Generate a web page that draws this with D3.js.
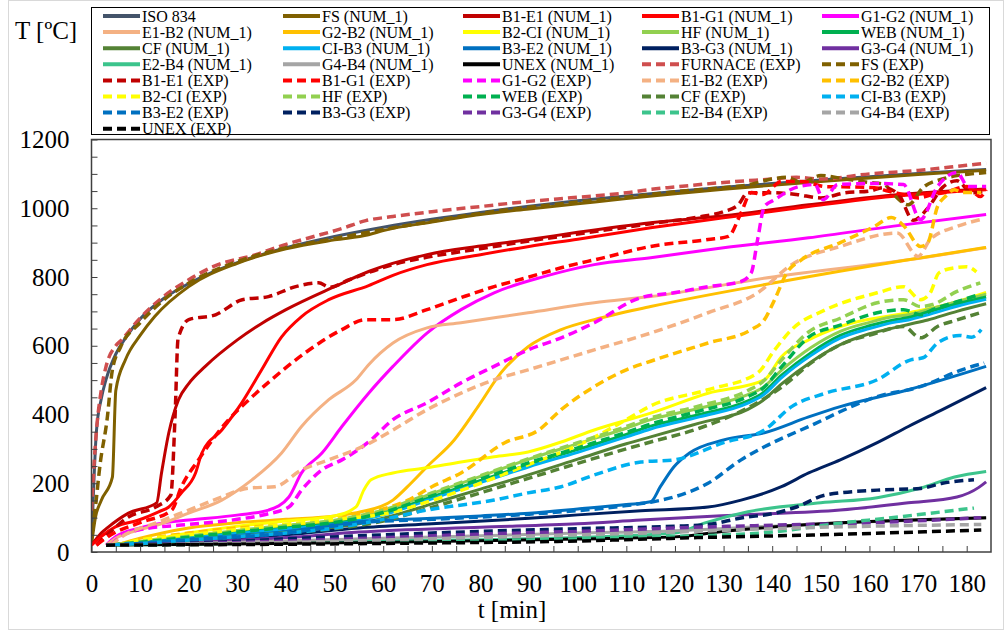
<!DOCTYPE html>
<html>
<head>
<meta charset="utf-8">
<script src="https://cdn.jsdelivr.net/npm/d3@7"></script>
<style>
  body { margin: 0; background: #fff; }
  text { font-family: "Liberation Serif", "Times New Roman", serif; }
</style>
</head>
<body>
<script>
// ---- data: [t (min), T (degC)] ----
var iso834 = [[0,20],[1,349],[2,445],[3,502],[5,576],[7,623],[10,678],[15,739],[20,781],[25,815],[30,842],[40,885],[50,918],[60,945],[70,968],[80,988],[90,1006],[100,1022],[110,1036],[120,1049],[130,1061],[140,1072],[150,1082],[160,1092],[170,1101],[180,1110],[184,1113]];
var fsNum = [[0,20],[0.8,100],[2,150],[4.3,218],[5,470],[7,560],[10,630],[13,685],[20,772],[30,840],[40,882],[50,908],[57,923],[60,935],[70,960],[80,982],[90,998],[100,1013],[110,1028],[120,1042],[130,1055],[140,1067],[150,1078],[160,1088],[170,1098],[180,1107],[184,1111]];
var b1e1Num = [[0,20],[2,55],[3.5,73],[7.6,113],[13.4,143],[14.4,230],[15.9,347],[17.9,443],[20,490],[23.4,540],[30,617],[35,665],[40,705],[50,772],[57,816],[69,865],[80,890],[90,909],[100,930],[115,958],[130,978],[147.5,1010],[164.5,1038],[184,1056]];
var b1g1Num = [[0,20],[2,45],[4.9,73],[9.7,93],[13.8,117],[15.9,131],[18.5,172],[21.4,230],[22.7,288],[26.8,355],[30.9,434],[35,530],[39.1,626],[43.2,685],[48.8,734],[57,775],[62,805],[69,836],[80,865],[90,889],[100,910],[115,943],[130,972],[147.5,1005],[164.5,1034],[184,1054]];
var g1g2Num = [[3,20],[5,45],[10,70],[15,85],[20,93],[30.3,108],[36.4,122],[40.6,160],[43.2,230],[47.4,288],[51.5,365],[57,462],[62,540],[69,637],[76,705],[82.8,754],[93,801],[103.4,836],[115,856],[130,885],[147.5,914],[165,948],[184,982]];
var e1b2Num = [[3,20],[5,40],[10,65],[15,85],[20,113],[26.8,151],[33,210],[39.1,288],[43.2,365],[48.8,443],[54.4,501],[57,545],[62,608],[69,652],[76,667],[89.8,696],[103.4,725],[115,743],[140.5,801],[168,850],[184,885]];
var g2b2Num = [[5,20],[10,40],[20,70],[30,85],[40,95],[50,105],[55.4,117],[62,151],[65.7,200],[69,248],[74.6,326],[79.5,423],[84.2,521],[89.8,597],[96.6,647],[103.4,676],[115,714],[140.5,783],[168,850],[184,886]];
var b2ciNum = [[4,20],[10,30],[20,55],[30,75],[40,90],[50,105],[54.4,131],[56,180],[57.5,210],[62,230],[69,245],[76,262],[82.8,277],[89.8,291],[96.6,320],[103.4,355],[115,404],[126.8,462],[138.4,501],[141.9,568],[147.5,617],[154,656],[168,696],[176,720],[184,755]];
var hfNum = [[4,20],[10,30],[20,45],[30,60],[40,75],[50,90],[55,100],[60,120],[70,170],[80,220],[90,270],[100,315],[110,360],[115,385],[125,418],[135,458],[138,478],[142,530],[148,595],[154,642],[160,668],[165,685],[168,690],[172,705],[178,728],[184,750]];
var webNum = [[4,20],[10,28],[20,42],[30,56],[40,70],[50,84],[55,95],[60,112],[70,160],[80,208],[90,255],[100,298],[110,342],[115,366],[125,400],[135,440],[138,462],[142,515],[148,580],[154,630],[160,658],[165,675],[168,682],[172,698],[178,722],[184,742]];
var cfNum = [[4,20],[10,25],[20,36],[30,48],[40,60],[50,72],[55,82],[60,98],[70,140],[80,183],[90,225],[100,270],[110,315],[115,335],[125,375],[135,415],[138,440],[142,490],[148,553],[154,603],[160,635],[165,652],[168,662],[172,675],[178,700],[184,722]];
var ciB3Num = [[4,20],[10,27],[20,40],[30,54],[40,67],[50,80],[55,92],[60,108],[70,155],[80,202],[90,248],[100,290],[110,335],[115,358],[125,393],[135,433],[138,455],[142,508],[148,572],[154,622],[160,650],[165,668],[168,675],[172,690],[178,715],[184,735]];
var b3e2Num = [[3,20],[10,27],[20,38],[40,60],[55,88],[70,98],[80,105],[90,113],[100,125],[110,138],[115,146],[117,190],[119.8,248],[123,288],[130,326],[138.4,347],[147.5,393],[154,423],[168,472],[184,540]];
var b3g3Num = [[3,20],[20,30],[40,50],[55,70],[70,82],[90,98],[100,108],[113,120],[126.8,131],[133.6,151],[141.9,190],[147.5,230],[154,268],[161.6,318],[168,365],[175,414],[184,478]];
var g3g4Num = [[3,20],[20,28],[40,42],[55,58],[80,72],[100,82],[113,93],[133.6,108],[154,122],[168,143],[178,160],[182.5,188],[184,204]];
var e2b4Num = [[3,20],[20,22],[60,32],[100,42],[120,55],[126,84],[135,117],[150,143],[161.6,158],[170.6,186],[177.5,218],[184,234]];
var g4b4Num = [[3,20],[20,25],[60,40],[100,55],[120,62],[140,75],[160,88],[184,99]];
var unexNum = [[3,20],[20,22],[60,28],[100,38],[120,44],[130,60],[150,82],[184,100]];

var furnaceExp = [[0,120],[0.5,250],[1,350],[2,470],[3,540],[5,600],[6.2,617],[9.7,676],[15,745],[20,792],[25,830],[33.8,865],[40,895],[45,915],[51.5,941],[56.4,964],[62,976],[70,990],[80,1005],[90,1020],[100,1032],[110,1045],[114.5,1054],[120,1062],[130,1075],[140,1085],[145,1090],[150,1085],[160,1100],[170,1110],[180,1125],[184,1131]];
var fsExp = [[0,60],[0.7,120],[1.8,259],[3.2,385],[4.3,530],[6,597],[10,667],[15,735],[20,782],[30,845],[40,885],[50,912],[60,938],[70,962],[80,985],[90,1003],[100,1018],[110,1032],[120,1048],[130,1060],[135,1068],[140,1085],[143,1090],[146,1075],[150,1095],[155,1085],[160,1075],[163,1070],[165,1040],[168,1010],[171,1060],[175,1085],[178,1095],[181,1100],[184,1104]];
var b1e1Exp = [[1,20],[4,60],[7.6,102],[13.2,131],[16.3,165],[17.2,400],[17.8,620],[20,676],[25.5,690],[31,734],[36.4,743],[42,772],[46.7,783],[49,770],[53,792],[62,836],[70,860],[80,882],[90,905],[100,925],[115,955],[125,975],[130,990],[133,1010],[135,1045],[140,1045],[145,1040],[150,1030],[155,1045],[160,1050],[163,1060],[166,1040],[169,965],[172,1000],[175,1060],[178,1080],[181,1045],[184,1050]];
var b1g1Exp = [[1,20],[4,50],[9.7,84],[16.5,122],[18.5,190],[22,268],[28.2,385],[31.7,434],[37,501],[44,580],[51.5,647],[56.4,676],[62,676],[69,705],[76,740],[82.8,772],[90,800],[96.6,827],[105,855],[115,889],[126.8,909],[131,918],[133.6,987],[135.7,1046],[138,1040],[142,1078],[146,1078],[151,1063],[156,1062],[161,1060],[164,1049],[167,1040],[170,1030],[173,1040],[175.6,1046],[180,1063],[182.8,1034],[184,1054]];
var g1g2Exp = [[4,20],[6,45],[10,65],[20,80],[30,95],[36,110],[40.6,131],[43.2,180],[47.4,239],[51.5,268],[57,320],[62,385],[69,434],[76,492],[82.8,540],[89.8,588],[96.6,623],[103.4,667],[113,740],[119.8,754],[126.8,772],[133.6,787],[135.7,813],[137,909],[138.4,1005],[140.5,1025],[145.4,1063],[148.8,1069],[150.5,1025],[153.5,1069],[161.6,1072],[167,1069],[170.5,967],[174,1063],[178,1104],[180.3,1063],[184,1063]];
var e1b2Exp = [[4,20],[6.2,44],[13.2,84],[20,122],[26.8,160],[32.3,186],[37.7,190],[43.2,239],[48.8,268],[57,315],[62,355],[69,414],[76,462],[82.8,501],[89.8,530],[103.4,588],[115,637],[126.8,696],[137,754],[144,836],[154,889],[165.7,928],[170,860],[172.5,909],[178,947],[182.8,967]];
var g2b2Exp = [[5,20],[10,35],[20,55],[30,70],[40,80],[50,95],[55,110],[60,125],[65,150],[70,190],[76,230],[85,318],[92,355],[96.6,414],[103.4,481],[110,530],[115,555],[126.8,608],[135.7,647],[138.4,676],[140.5,734],[143,812],[146,850],[154,900],[161,947],[164.5,973],[167,950],[170.5,889],[172,900],[174,1005],[175.6,1034],[177.5,1054],[179,1046],[183,1046]];
var b2ciExp = [[5,20],[10,35],[20,50],[30,65],[40,80],[50,95],[60,110],[70,150],[80,200],[90,255],[100,310],[110,385],[115,425],[126.8,472],[137,521],[140.5,588],[144,647],[151,705],[161.6,754],[167,772],[170.5,734],[172.5,754],[174.3,812],[177.5,827],[180,830],[182,815]];
var hfExp = [[4,20],[10,30],[20,46],[30,62],[40,77],[50,92],[60,122],[70,172],[80,222],[90,272],[100,318],[110,365],[115,390],[125,425],[135,470],[138,495],[142,560],[147.5,640],[154,680],[161.6,725],[167,734],[170.5,714],[173,720],[178,758],[182.8,783]];
var webExp = [[4,20],[10,28],[20,43],[30,58],[40,72],[50,86],[60,115],[70,163],[80,212],[90,260],[100,303],[110,348],[115,372],[125,410],[135,452],[138,475],[142,540],[147.5,625],[154,660],[161.6,696],[167,705],[170.5,690],[173,705],[178,728],[182.8,750]];
var cfExp = [[4,20],[10,24],[20,34],[30,45],[40,56],[50,68],[60,90],[70,130],[80,172],[90,215],[100,258],[110,300],[115,320],[125,360],[138,443],[142,480],[148,550],[154,603],[161,635],[167,656],[170.5,623],[174,656],[178,675],[182.8,696]];
var ciB3Exp = [[4,20],[10,25],[20,35],[30,45],[40,55],[50,70],[60,95],[69,122],[82.8,151],[89.8,172],[96.6,190],[103.4,224],[113,262],[119.8,268],[130,318],[138.4,355],[144,423],[151,462],[161.6,501],[168.5,559],[171,565],[174,608],[178.5,630],[181,625],[183,647]];
var b3e2Exp = [[3,20],[10,25],[20,35],[40,55],[55,85],[70,95],[90,110],[110,135],[115,145],[119.8,160],[126.8,200],[133.6,268],[138.4,306],[147.5,365],[161.6,452],[170.5,481],[179,530],[183.6,550]];
var b3g3Exp = [[3,20],[20,25],[40,38],[60,50],[80,60],[100,68],[120,75],[126.8,80],[133.6,99],[140.5,113],[145,131],[151,166],[161.6,180],[170.5,185],[175,200],[181.5,210]];
var g3g4Exp = [[3,20],[20,24],[40,32],[60,42],[80,52],[100,60],[120,70],[140,78],[160,85],[183,100]];
var e2b4Exp = [[3,20],[20,22],[60,28],[100,38],[120,45],[140,58],[154,84],[164,99],[181.5,128]];
var g4b4Exp = [[3,20],[20,22],[60,35],[100,50],[120,58],[140,68],[160,75],[183,80]];
var unexExp = [[3,20],[20,21],[60,25],[100,32],[125,42],[150,50],[183,64]];

var seriesNames = ["ISO 834","FS (NUM_1)","B1-E1 (NUM_1)","B1-G1 (NUM_1)","G1-G2 (NUM_1)",
  "E1-B2 (NUM_1)","G2-B2 (NUM_1)","B2-CI (NUM_1)","HF (NUM_1)","WEB (NUM_1)",
  "CF (NUM_1)","CI-B3 (NUM_1)","B3-E2 (NUM_1)","B3-G3 (NUM_1)","G3-G4 (NUM_1)",
  "E2-B4 (NUM_1)","G4-B4 (NUM_1)","UNEX (NUM_1)","FURNACE (EXP)","FS (EXP)",
  "B1-E1 (EXP)","B1-G1 (EXP)","G1-G2 (EXP)","E1-B2 (EXP)","G2-B2 (EXP)",
  "B2-CI (EXP)","HF (EXP)","WEB (EXP)","CF (EXP)","CI-B3 (EXP)",
  "B3-E2 (EXP)","B3-G3 (EXP)","G3-G4 (EXP)","E2-B4 (EXP)","G4-B4 (EXP)",
  "UNEX (EXP)"];
var seriesData = [iso834, fsNum, b1e1Num, b1g1Num, g1g2Num,
  e1b2Num, g2b2Num, b2ciNum, hfNum, webNum,
  cfNum, ciB3Num, b3e2Num, b3g3Num, g3g4Num,
  e2b4Num, g4b4Num, unexNum, furnaceExp, fsExp,
  b1e1Exp, b1g1Exp, g1g2Exp, e1b2Exp, g2b2Exp,
  b2ciExp, hfExp, webExp, cfExp, ciB3Exp,
  b3e2Exp, b3g3Exp, g3g4Exp, e2b4Exp, g4b4Exp,
  unexExp];

var seriesColors = ["#44546A","#7F6000","#C00000","#FF0000","#FF00FF",
  "#F4B183","#FFC000","#FFFF00","#92D050","#00B050",
  "#548235","#00B0F0","#0070C0","#002060","#7030A0",
  "#3CC48C","#A5A5A5","#000000","#CF4E4E","#7F6000",
  "#C00000","#FF0000","#FF00FF","#F4B183","#FFC000",
  "#FFFF00","#92D050","#00B050","#548235","#00B0F0",
  "#0070C0","#002060","#7030A0","#3CC48C","#A5A5A5",
  "#000000"];

var width = 1005, height = 631;
var plot = {left: 91.5, right: 991, top: 139.5, bottom: 552};

var svg = d3.select("body").append("svg")
    .attr("width", width)
    .attr("height", height);

// outer chart border
svg.append("rect")
    .attr("x", 8.5).attr("y", 0.5)
    .attr("width", 995).attr("height", 629)
    .attr("fill", "none").attr("stroke", "#d9d9d9");

var x = d3.scaleLinear().domain([0, 185]).range([plot.left, plot.right]);
var y = d3.scaleLinear().domain([0, 1200]).range([plot.bottom, plot.top]);

svg.append("clipPath").attr("id", "clip")
  .append("rect")
    .attr("x", plot.left).attr("y", plot.top)
    .attr("width", plot.right - plot.left).attr("height", plot.bottom - plot.top);

var line = d3.line()
    .x(function(d) { return x(d[0]); })
    .y(function(d) { return y(d[1]); })
    .curve(d3.curveMonotoneX);

var series = seriesNames.map(function(name, i) {
    return {name: name, values: seriesData[i], color: seriesColors[i], exp: name.indexOf("(EXP)") >= 0};
});

svg.append("g")
    .attr("clip-path", "url(#clip)")
  .selectAll("path")
    .data(series)
    .enter().append("path")
    .attr("d", function(d) { return line(d.values); })
    .attr("fill", "none")
    .attr("stroke", function(d) { return d.color; })
    .attr("stroke-width", function(d) { return d.exp ? 3.5 : 3; })
    .attr("stroke-dasharray", function(d) { return d.exp ? "9,5" : null; })
    .attr("stroke-linejoin", "round");

// axes, ticks pointing inward
var yAxis = svg.append("g")
    .attr("transform", "translate(" + plot.left + ",0)")
    .call(d3.axisLeft(y)
        .tickValues(d3.range(0, 1201, 50))
        .tickSizeInner(-6).tickSizeOuter(0).tickPadding(22)
        .tickFormat(function(d) { return d % 200 === 0 ? d : ""; }));

var xAxis = svg.append("g")
    .attr("transform", "translate(0," + plot.bottom + ")")
    .call(d3.axisBottom(x)
        .tickValues(d3.range(0, 181, 5))
        .tickSizeInner(-6).tickSizeOuter(0).tickPadding(22)
        .tickFormat(function(d) { return d % 10 === 0 ? d : ""; }));

[yAxis, xAxis].forEach(function(a) {
    a.select(".domain").remove();
    a.selectAll(".tick line").attr("stroke", "#404040");
    a.selectAll("text")
        .attr("font-family", "Liberation Serif, serif")
        .attr("font-size", 25)
        .attr("fill", "#000");
});

svg.append("rect")
    .attr("x", plot.left).attr("y", plot.top)
    .attr("width", plot.right - plot.left).attr("height", plot.bottom - plot.top)
    .attr("fill", "none").attr("stroke", "#404040").attr("stroke-width", 1.5);

svg.append("text")
    .attr("x", 15).attr("y", 39)
    .attr("font-size", 25)
    .text("T [ºC]");

svg.append("text")
    .attr("x", 512).attr("y", 618)
    .attr("text-anchor", "middle")
    .attr("font-size", 25)
    .text("t [min]");

// legend
var legend = svg.append("g");
legend.append("rect")
    .attr("x", 91.5).attr("y", 7.5)
    .attr("width", 898).attr("height", 127)
    .attr("fill", "#fff").attr("stroke", "#000");

var colX = [103, 283, 463, 642, 822];
var items = legend.selectAll("g.item")
    .data(series)
    .enter().append("g")
    .attr("class", "item")
    .attr("transform", function(d, i) {
        return "translate(" + colX[i % 5] + "," + (16 + 16.1 * Math.floor(i / 5)) + ")";
    });

items.append("line")
    .attr("x1", 0).attr("x2", 37)
    .attr("stroke", function(d) { return d.color; })
    .attr("stroke-width", 4)
    .attr("stroke-dasharray", function(d) { return d.exp ? "9,5" : null; });

items.append("text")
    .attr("x", 39).attr("y", 5.5)
    .attr("font-size", 16)
    .attr("fill", "#000")
    .text(function(d) { return d.name; });
</script>
</body>
</html>
